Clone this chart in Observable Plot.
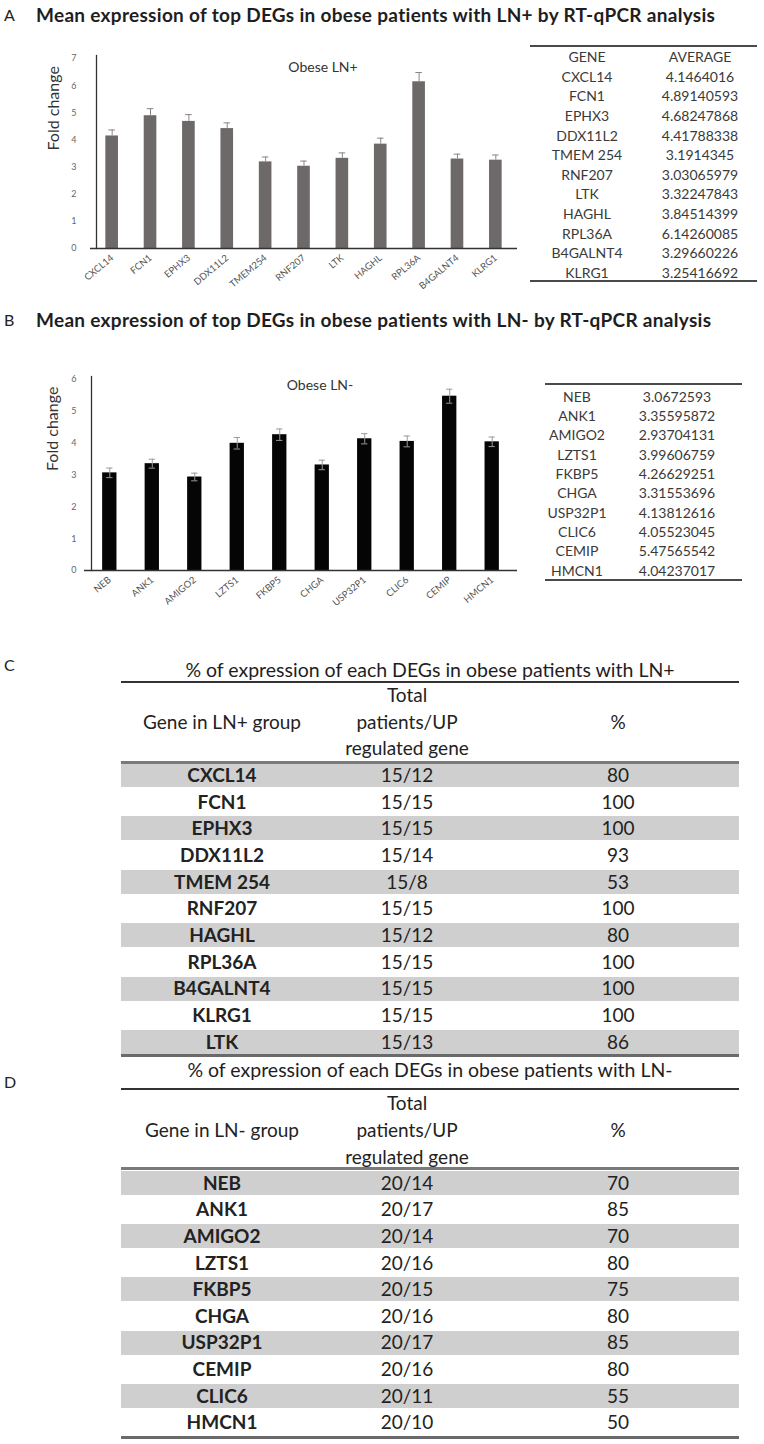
<!DOCTYPE html>
<html><head><meta charset="utf-8">
<script src="https://cdn.jsdelivr.net/npm/d3@7"></script>
<script src="https://cdn.jsdelivr.net/npm/@observablehq/plot@0.6"></script>
<style>
body{margin:0;background:#fff;font-family:Lato,"Open Sans",sans-serif;color:#222;}
#page{position:relative;width:764px;height:1444px;overflow:hidden;background:#fff;}
.abs{position:absolute;white-space:nowrap;}
svg{overflow:visible;}
</style></head><body><div id="page"></div>
<script>
// ---------- Panel A data ----------
const panelTitleA = "Mean expression of top DEGs in obese patients with LN+ by RT-qPCR analysis";
const chartTitleA = "Obese LN+";
const genesA = ["CXCL14","FCN1","EPHX3","DDX11L2","TMEM254","RNF207","LTK","HAGHL","RPL36A","B4GALNT4","KLRG1"];
const meansA = [4.1464016,4.89140593,4.68247868,4.41788338,3.1914345,3.03065979,3.32247843,3.84514399,6.14260085,3.29660226,3.25416692];
const errA = [0.22,0.26,0.25,0.21,0.18,0.19,0.20,0.22,0.34,0.18,0.19];
const yTicksA = [0,1,2,3,4,5,6,7];
const tableHeadA = ["GENE","AVERAGE"];
const tableGenesA = ["CXCL14","FCN1","EPHX3","DDX11L2","TMEM 254","RNF207","LTK","HAGHL","RPL36A","B4GALNT4","KLRG1"];

// ---------- Panel B data ----------
const panelTitleB = "Mean expression of top DEGs in obese patients with LN- by RT-qPCR analysis";
const chartTitleB = "Obese LN-";
const genesB = ["NEB","ANK1","AMIGO2","LZTS1","FKBP5","CHGA","USP32P1","CLIC6","CEMIP","HMCN1"];
const meansB = [3.0672593,3.35595872,2.93704131,3.99606759,4.26629251,3.31553696,4.13812616,4.05523045,5.47565542,4.04237017];
const errB = [0.15,0.14,0.12,0.18,0.18,0.15,0.16,0.17,0.22,0.15];
const yTicksB = [0,1,2,3,4,5,6];
const yLabel = "Fold change";

// ---------- Panel C data ----------
const titleC = "% of expression of each DEGs in obese patients with LN+";
const headC = ["Gene in LN+ group", "%"];
const headMid = ["Total","patients/UP","regulated gene"];
const genesC = ["CXCL14","FCN1","EPHX3","DDX11L2","TMEM 254","RNF207","HAGHL","RPL36A","B4GALNT4","KLRG1","LTK"];
const ratioC = ["15/12","15/15","15/15","15/14","15/8","15/15","15/12","15/15","15/15","15/15","15/13"];
const pctC = [80,100,100,93,53,100,80,100,100,100,86];

// ---------- Panel D data ----------
const titleD = "% of expression of each DEGs in obese patients with LN-";
const headD = ["Gene in LN- group", "%"];
const genesD = ["NEB","ANK1","AMIGO2","LZTS1","FKBP5","CHGA","USP32P1","CEMIP","CLIC6","HMCN1"];
const ratioD = ["20/14","20/17","20/14","20/16","20/15","20/16","20/17","20/16","20/11","20/10"];
const pctD = [70,85,70,80,75,80,85,80,55,50];

const page = document.getElementById("page");

function div(css, text) {
  const d = document.createElement("div");
  d.className = "abs";
  Object.assign(d.style, css);
  if (text !== undefined) d.textContent = text;
  page.appendChild(d);
  return d;
}
function textAt(txt, x, yc, size, opts = {}) {
  const h = size * 1.6;
  const css = {top: (yc - h / 2) + "px", height: h + "px", lineHeight: h + "px", fontSize: size + "px",
    fontWeight: opts.bold ? "700" : "400", color: opts.color || "#222", letterSpacing: (opts.ls || 0) + "px"};
  if (opts.center) { css.left = (x - 250) + "px"; css.width = "500px"; css.textAlign = "center"; }
  else css.left = x + "px";
  return div(css, txt);
}
function rule(x1, x2, y, thick, color) {
  div({left: x1 + "px", width: (x2 - x1) + "px", top: (y - thick / 2) + "px", height: thick + "px", background: color});
}

// ---------- Panel titles ----------
textAt("A", 4, 15, 16);
textAt(panelTitleA, 36, 15, 19, {bold: true, color: "#1e1e1e", ls: 0.3});
textAt("B", 4, 320, 16);
textAt(panelTitleB, 36, 320, 19, {bold: true, color: "#1e1e1e", ls: 0.3});

const intFmt = d => String(d);

// ---------- Chart A ----------
const dataA = genesA.map((g, i) => ({gene: g, mean: meansA[i], err: errA[i]}));
const chartA = Plot.plot({
  width: 530, height: 260, marginLeft: 90, marginRight: 13, marginTop: 18, marginBottom: 52,
  style: {fontFamily: "Lato, sans-serif", background: "transparent", overflow: "visible"},
  x: {type: "band", domain: genesA, paddingInner: 0.671, paddingOuter: 0.4, round: false},
  y: {domain: [0, 7]},
  marks: [
    Plot.barY(dataA, {x: "gene", y: "mean", fill: "#6e6969"}),
    Plot.ruleX(dataA, {x: "gene", y1: "mean", y2: d => d.mean + d.err, stroke: "#8a8585"}),
    Plot.tickY(dataA, {x: "gene", y: d => d.mean + d.err, stroke: "#8a8585", insetLeft: 3, insetRight: 3}),
    Plot.ruleY([0], {stroke: "#333", strokeWidth: 1.3}),
    Plot.frame({anchor: "left", insetLeft: 6, insetTop: -3, stroke: "#333", strokeWidth: 1.3}),
    Plot.axisY({ticks: yTicksA, tickFormat: intFmt, tickSize: 0, tickPadding: 14, fontSize: 9, color: "#666", label: null}),
    Plot.axisX({tickSize: 0, tickRotate: -40, tickPadding: 8, fontSize: 9.5, color: "#555", label: null}),
    Plot.text([chartTitleA], {frameAnchor: "top", dx: 19, dy: 4, fontSize: 14, fill: "#333"}),
    Plot.text([yLabel], {frameAnchor: "left", rotate: -90, dx: -37, dy: -3, fontSize: 16, fill: "#333"})
  ]
});
div({left: "0px", top: "40px"}).appendChild(chartA);

// ---------- Chart B ----------
const dataB = genesB.map((g, i) => ({gene: g, mean: meansB[i], err: errB[i]}));
const chartB = Plot.plot({
  width: 530, height: 250, marginLeft: 84, marginRight: 13, marginTop: 19, marginBottom: 40,
  style: {fontFamily: "Lato, sans-serif", background: "transparent", overflow: "visible"},
  x: {type: "band", domain: genesB, paddingInner: 0.663, paddingOuter: 0.427, round: false},
  y: {domain: [0, 6]},
  marks: [
    Plot.barY(dataB, {x: "gene", y: "mean", fill: "#050505"}),
    Plot.ruleX(dataB, {x: "gene", y1: d => d.mean - d.err, y2: d => d.mean + d.err, stroke: "#9a9a9a"}),
    Plot.tickY(dataB, {x: "gene", y: d => d.mean + d.err, stroke: "#9a9a9a", insetLeft: 4, insetRight: 4}),
    Plot.tickY(dataB, {x: "gene", y: d => d.mean - d.err, stroke: "#9a9a9a", insetLeft: 4, insetRight: 4}),
    Plot.ruleY([0], {stroke: "#333", strokeWidth: 1.3}),
    Plot.frame({anchor: "left", insetLeft: 7, insetTop: -3, stroke: "#333", strokeWidth: 1.3}),
    Plot.axisY({ticks: yTicksB, tickFormat: intFmt, tickSize: 0, tickPadding: 8, fontSize: 9, color: "#666", label: null}),
    Plot.axisX({tickSize: 0, tickRotate: -40, tickPadding: 8, fontSize: 9.5, color: "#555", label: null}),
    Plot.text([chartTitleB], {frameAnchor: "top", dx: 19, dy: 1, fontSize: 14, fill: "#333"}),
    Plot.text([yLabel], {frameAnchor: "left", rotate: -90, dx: -32, dy: -4, fontSize: 16, fill: "#333"})
  ]
});
div({left: "0px", top: "360px"}).appendChild(chartB);

// ---------- Small tables (A, B) ----------
function smallTable({left, right, topY, bottomY, head, headY, names, values, y0, pitch, c1, c2}) {
  rule(left, right, topY, 2, "#4a4a4a");
  if (head) { textAt(head[0], c1, headY, 14, {center: true, color: "#3a3a3a"}); textAt(head[1], c2, headY, 14, {center: true, color: "#3a3a3a"}); }
  names.forEach((n, i) => {
    const y = y0 + pitch * i;
    textAt(n, c1, y, 14, {center: true, color: "#3a3a3a"});
    textAt(String(values[i]), c2, y, 14, {center: true, color: "#3a3a3a"});
  });
  rule(left, right, bottomY, 2, "#4a4a4a");
}
smallTable({left: 530, right: 757, topY: 46, bottomY: 281, head: tableHeadA, headY: 57,
  names: tableGenesA, values: meansA, y0: 77, pitch: 19.6, c1: 587, c2: 700});
smallTable({left: 545, right: 742, topY: 384, bottomY: 580, head: null,
  names: genesB, values: meansB, y0: 397, pitch: 19.33, c1: 577, c2: 677});

// ---------- Big tables (C, D) ----------
function bigTable({letter, letterY, title, head, titleY, topY, hY, headRuleY, y0, pitch, bottomY, genes, ratios, pcts}) {
  const L = 121, R = 739, c1 = 222, c2 = 407, c3 = 618, fs = 19;
  textAt(letter, 4, letterY, 16);
  textAt(title, (L + R) / 2, titleY, 19.5, {center: true, color: "#1e1e1e"});
  rule(L, R, topY, 2, "#333");
  textAt(headMid[0], c2, hY[0], fs, {center: true});
  textAt(head[0], c1, hY[1], fs, {center: true});
  textAt(headMid[1], c2, hY[1], fs, {center: true});
  textAt(head[1], c3, hY[1], fs, {center: true});
  textAt(headMid[2], c2, hY[2], fs, {center: true});
  genes.forEach((g, i) => {
    const y = y0 + pitch * i;
    if (i % 2 === 0) div({left: L + "px", width: (R - L) + "px", top: (y - 12) + "px", height: "24px", background: "#cfcfcf"});
    textAt(g, c1, y, fs, {center: true, bold: true});
    textAt(ratios[i], c2, y, fs, {center: true});
    textAt(String(pcts[i]), c3, y, fs, {center: true});
  });
  rule(L, R, headRuleY, 3, "#7a7a7a");
  rule(L, R, bottomY, 3, "#6a6a6a");
}
bigTable({letter: "C", letterY: 665, title: titleC, head: headC, titleY: 670, topY: 682, hY: [695, 722, 748], headRuleY: 762,
  y0: 775, pitch: 26.7, bottomY: 1055, genes: genesC, ratios: ratioC, pcts: pctC});
bigTable({letter: "D", letterY: 1082, title: titleD, head: headD, titleY: 1070, topY: 1089, hY: [1103, 1130, 1157], headRuleY: 1168,
  y0: 1183, pitch: 26.6, bottomY: 1437, genes: genesD, ratios: ratioD, pcts: pctD});
</script></body></html>
